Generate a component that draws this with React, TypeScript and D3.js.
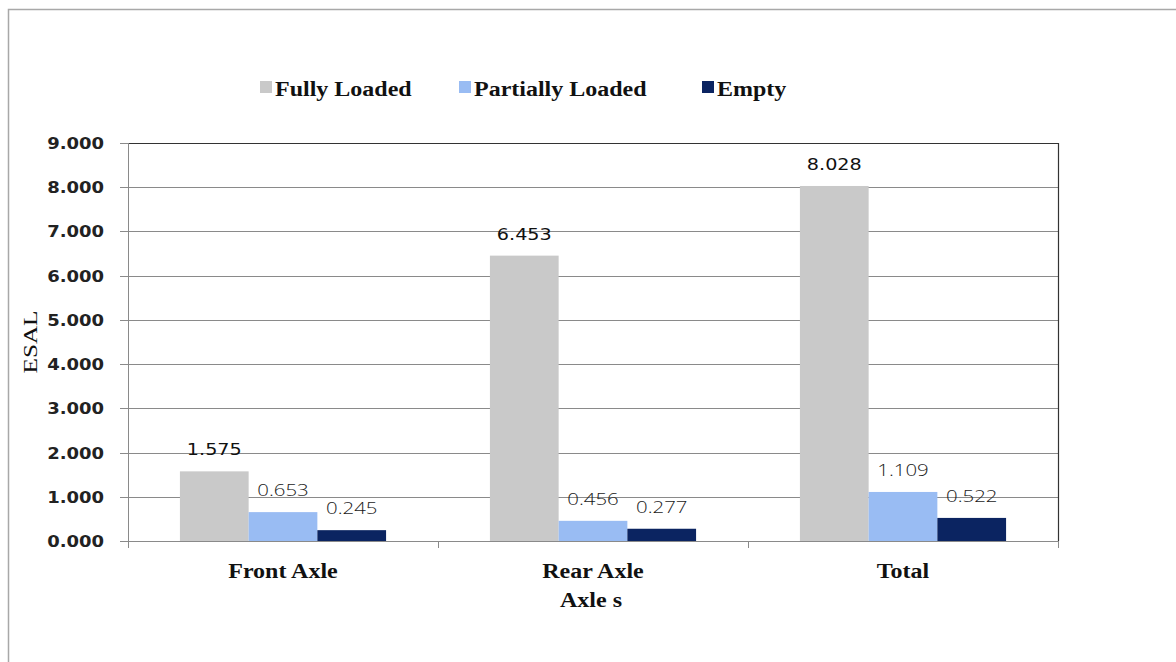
import React from "react";
import * as d3 from "d3";

// Axle groups and load states
const categories = ["Front Axle", "Rear Axle", "Total"];
const series = ["Fully Loaded", "Partially Loaded", "Empty"];

// ESAL values per load state, in category order
const fullyLoaded = [1.575, 6.453, 8.028];
const partiallyLoaded = [0.653, 0.456, 1.109];
const empty = [0.245, 0.277, 0.522];

const yTicks = [0, 1, 2, 3, 4, 5, 6, 7, 8, 9];

const seriesValues = [fullyLoaded, partiallyLoaded, empty];
const colors = ["#c9c9c9", "#99bcf3", "#0b2461"];

const W = 1176;
const H = 662;
const plot = { left: 128, right: 1058, top: 143, bottom: 541 };
// horizontal widening applied to all text
const SX = 1.2;
const legendX = [260, 459, 702];

export default function App() {
  const x0 = d3
    .scaleBand<string>()
    .domain(categories)
    .range([plot.left, plot.right])
    .paddingInner(0.335)
    .paddingOuter(0.1675);
  const x1 = d3
    .scaleBand<string>()
    .domain(series)
    .range([0, x0.bandwidth()]);
  const y = d3.scaleLinear().domain([0, 9]).range([plot.bottom, plot.top]);
  const step = x0.step();
  const boundaries = d3.range(categories.length + 1).map((i) => plot.left + i * step);

  const serif = "'Liberation Serif', 'Times New Roman', serif";
  const sans = "'DejaVu Sans', Verdana, sans-serif";

  return (
    <svg
      width={W}
      height={H}
      style={{ position: "absolute", left: 0, top: 0, background: "#fff" }}
    >
      <rect x={0} y={0} width={W} height={H} fill="#fff" />
      {/* outer chart frame */}
      <rect x={8.5} y={9.5} width={W + 20} height={H + 20} fill="none" stroke="#a8a8a8" strokeWidth={1.5} />

      {/* legend */}
      {series.map((s, i) => (
        <g key={s}>
          <rect x={legendX[i]} y={81} width={12} height={12} fill={colors[i]} />
          <text
            transform={`translate(${legendX[i] + 15},96) scale(${SX},1)`}
            fontFamily={serif}
            fontWeight="bold"
            fontSize={20}
            fill="#111"
          >
            {s}
          </text>
        </g>
      ))}

      {/* gridlines */}
      {yTicks
        .filter((t) => t > 0 && t < 9)
        .map((t) => (
          <line
            key={t}
            x1={plot.left}
            x2={plot.right}
            y1={Math.round(y(t)) + 0.5}
            y2={Math.round(y(t)) + 0.5}
            stroke="#8a8a8a"
            strokeWidth={1}
          />
        ))}

      {/* plot border top and right */}
      <line x1={plot.left} x2={plot.right} y1={plot.top + 0.5} y2={plot.top + 0.5} stroke="#333" strokeWidth={1.2} />
      <line x1={plot.right + 0.5} x2={plot.right + 0.5} y1={plot.top} y2={plot.bottom} stroke="#333" strokeWidth={1.2} />

      {/* bars */}
      {categories.map((c, ci) => (
        <g key={c} transform={`translate(${x0(c)},0)`}>
          {series.map((s, si) => {
            const v = seriesValues[si][ci];
            return (
              <rect
                key={s}
                x={x1(s)}
                y={y(v)}
                width={x1.bandwidth()}
                height={y(0) - y(v)}
                fill={colors[si]}
              />
            );
          })}
        </g>
      ))}

      {/* axes */}
      <line x1={plot.left + 0.5} x2={plot.left + 0.5} y1={plot.top} y2={plot.bottom + 7} stroke="#8a8a8a" />
      <line x1={plot.left - 8} x2={plot.right} y1={plot.bottom + 0.5} y2={plot.bottom + 0.5} stroke="#8a8a8a" />
      {yTicks.map((t) => (
        <g key={t}>
          <line
            x1={plot.left - 8}
            x2={plot.left}
            y1={Math.round(y(t)) + 0.5}
            y2={Math.round(y(t)) + 0.5}
            stroke="#8a8a8a"
          />
          <text
            transform={`translate(104,${y(t) + 6}) scale(${SX},1)`}
            textAnchor="end"
            fontFamily={sans}
            fontWeight="bold"
            fontSize={15}
            fill="#222"
          >
            {d3.format(".3f")(t)}
          </text>
        </g>
      ))}
      {boundaries.map((bx, i) => (
        <line key={i} x1={bx + 0.5} x2={bx + 0.5} y1={plot.bottom} y2={plot.bottom + 7} stroke="#8a8a8a" />
      ))}

      {/* value labels */}
      {categories.map((c, ci) =>
        series.map((s, si) => {
          const v = seriesValues[si][ci];
          const cx = (x0(c) ?? 0) + (x1(s) ?? 0) + x1.bandwidth() / 2;
          const first = si === 0;
          return (
            <text
              key={c + s}
              transform={`translate(${cx},${y(v) - 16}) scale(${SX},1)`}
              textAnchor="middle"
              fontFamily={first ? sans : "'Open Sans', 'DejaVu Sans', sans-serif"}
              fontWeight={first ? "normal" : 300}
              fontSize={first ? 16 : 17}
              fill={first ? "#111" : "#1a1a1a"}
            >
              {d3.format(".3f")(v)}
            </text>
          );
        })
      )}

      {/* category labels */}
      {categories.map((c) => (
        <text
          key={c}
          transform={`translate(${(x0(c) ?? 0) + x0.bandwidth() / 2},578) scale(${SX},1)`}
          textAnchor="middle"
          fontFamily={serif}
          fontWeight="bold"
          fontSize={20}
          fill="#111"
        >
          {c}
        </text>
      ))}

      {/* axis titles */}
      <text
        transform={`translate(${(plot.left + plot.right) / 2 - 2},607) scale(${SX},1)`}
        textAnchor="middle"
        fontFamily={serif}
        fontWeight="bold"
        fontSize={20}
        fill="#111"
      >
        Axle s
      </text>
      <text
        transform={`translate(37,${(plot.top + plot.bottom) / 2}) rotate(-90)`}
        textAnchor="middle"
        fontFamily={serif}
        fontSize={19}
        textLength={63}
        lengthAdjust="spacingAndGlyphs"
        fill="#111"
      >
        ESAL
      </text>
    </svg>
  );
}
